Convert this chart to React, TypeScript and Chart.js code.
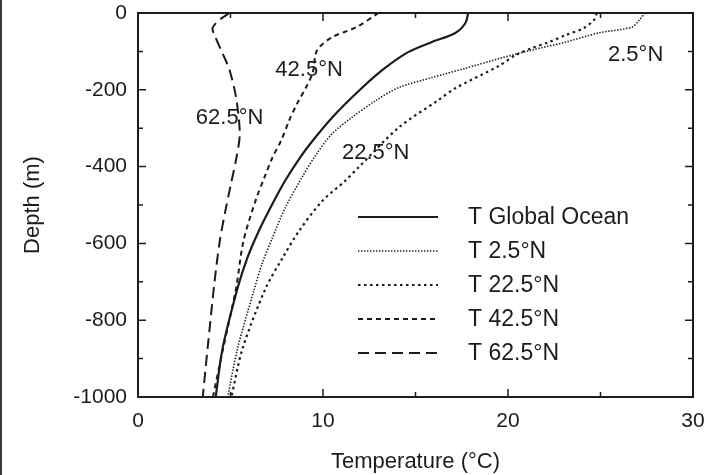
import React, { useEffect, useRef } from "react";
import { Chart, registerables } from "chart.js";

Chart.register(...registerables);

// ---- data (temperature °C vs depth m) ----
const globalDepth = [0, -26, -52, -76, -102, -149, -209, -272, -332, -377, -437, -508, -576, -639, -717, -874, -1000];
const globalTemp = [17.85, 17.7, 17.15, 15.86, 14.6, 13.2, 11.8, 10.5, 9.45, 8.75, 7.95, 7.15, 6.45, 5.9, 5.38, 4.57, 4.2];

const n25Depth = [0, -21, -37, -52, -76, -97, -119, -144, -168, -194, -228, -272, -314, -367, -429, -508, -586, -654, -725, -874, -1000];
const n25Temp = [27.4, 27.05, 26.7, 24.9, 23.1, 21.25, 19.5, 17.7, 15.9, 14.1, 12.85, 11.56, 10.5, 9.65, 8.85, 7.95, 7.26, 6.7, 6.25, 5.38, 4.85];

const n225Depth = [0, -18, -39, -58, -76, -92, -110, -138, -196, -228, -298, -403, -437, -490, -568, -639, -717, -874, -1000];
const n225Temp = [24.8, 24.65, 24.1, 23.1, 22.2, 21.25, 20.4, 19.5, 17.15, 16.2, 14.1, 11.9, 11.2, 9.95, 8.7, 7.8, 6.9, 5.65, 5.05];

const n425Depth = [0, -37, -63, -97, -154, -194, -236, -280, -332, -377, -429, -482, -594, -717, -874, -1000];
const n425Temp = [13.0, 11.8, 10.5, 9.68, 9.45, 9.08, 8.6, 8.17, 7.74, 7.26, 6.83, 6.4, 5.7, 5.3, 4.6, 4.05];

const n625Depth = [0, -18, -39, -58, -105, -149, -220, -314, -377, -455, -516, -594, -699, -874, -1000];
const n625Temp = [4.95, 4.4, 4.03, 4.14, 4.57, 4.95, 5.3, 5.5, 5.32, 4.98, 4.72, 4.42, 4.14, 3.76, 3.5];

const seriesLabels = ["T Global Ocean", "T 2.5°N", "T 22.5°N", "T 42.5°N", "T 62.5°N"];

const curveLabels = ["62.5°N", "42.5°N", "22.5°N", "2.5°N"];
const curveLabelTemp = [4.95, 9.25, 12.85, 26.9];
const curveLabelDepth = [-272, -149, -364, -110];

const xTickValues = [0, 10, 20, 30];
const yTickValues = [0, -200, -400, -600, -800, -1000];

const FONT = '"Liberation Sans", Arial, Helvetica, sans-serif';
const INK = "#1c1c1c";

const toPoints = (t: number[], d: number[]) => t.map((v, i) => ({ x: v, y: d[i] }));

const styles = [
  { dash: [] as number[], width: 2.2 },
  { dash: [1.4, 1.6], width: 1.6 },
  { dash: [2.5, 3.5], width: 2.2 },
  { dash: [5, 4], width: 2 },
  { dash: [11, 6], width: 2 },
];

const decorPlugin = {
  id: "decor",
  beforeDraw(chart: any) {
    const { ctx, width, height } = chart;
    ctx.save();
    ctx.fillStyle = "#ffffff";
    ctx.fillRect(0, 0, width, height);
    ctx.fillStyle = "#3a3a3a";
    ctx.fillRect(0, 0, 2, height);
    ctx.restore();
  },
  afterDraw(chart: any) {
    const { ctx, chartArea, scales } = chart;
    const { left, right, top, bottom } = chartArea;
    const x = scales.x;
    const y = scales.y;
    ctx.save();
    ctx.strokeStyle = INK;
    ctx.lineWidth = 2;
    ctx.strokeRect(left, top, right - left, bottom - top);
    ctx.lineWidth = 1.5;
    ctx.beginPath();
    for (let v = 0; v <= 30; v += 5) {
      const px = x.getPixelForValue(v);
      const len = v % 10 === 0 ? 8 : 5;
      ctx.moveTo(px, bottom);
      ctx.lineTo(px, bottom - len);
      ctx.moveTo(px, top);
      ctx.lineTo(px, top + len);
    }
    for (let v = -1000; v <= 0; v += 100) {
      const py = y.getPixelForValue(v);
      const len = v % 200 === 0 ? 8 : 5;
      ctx.moveTo(left, py);
      ctx.lineTo(left + len, py);
      ctx.moveTo(right, py);
      ctx.lineTo(right - len, py);
    }
    ctx.stroke();

    // curve labels
    ctx.fillStyle = INK;
    ctx.font = `22px ${FONT}`;
    ctx.textAlign = "center";
    ctx.textBaseline = "middle";
    curveLabels.forEach((lab, i) => {
      ctx.fillText(lab, x.getPixelForValue(curveLabelTemp[i]), y.getPixelForValue(curveLabelDepth[i]));
    });

    // legend
    const lx0 = left + 220;
    const lx1 = lx0 + 80;
    const tx = lx0 + 110;
    const ly0 = top + 204;
    const lstep = 34;
    ctx.textAlign = "left";
    ctx.font = `23px ${FONT}`;
    chart.data.datasets.forEach((ds: any, i: number) => {
      const yy = ly0 + i * lstep;
      ctx.save();
      ctx.strokeStyle = ds.borderColor;
      ctx.lineWidth = ds.borderWidth;
      ctx.setLineDash(ds.borderDash || []);
      ctx.beginPath();
      ctx.moveTo(lx0, yy);
      ctx.lineTo(lx1, yy);
      ctx.stroke();
      ctx.restore();
      ctx.fillText(ds.label, tx, yy + 1);
    });
    ctx.restore();
  },
};

export default function App() {
  const ref = useRef<HTMLCanvasElement | null>(null);

  useEffect(() => {
    if (!ref.current) return;
    const series = [
      toPoints(globalTemp, globalDepth),
      toPoints(n25Temp, n25Depth),
      toPoints(n225Temp, n225Depth),
      toPoints(n425Temp, n425Depth),
      toPoints(n625Temp, n625Depth),
    ];
    const chart = new Chart(ref.current, {
      type: "scatter",
      data: {
        datasets: series.map((pts, i) => ({
          label: seriesLabels[i],
          data: pts,
          showLine: true,
          borderColor: INK,
          backgroundColor: INK,
          borderWidth: styles[i].width,
          borderDash: styles[i].dash,
          pointRadius: 0,
          pointHoverRadius: 0,
          tension: 0.3,
          fill: false,
        })),
      },
      options: {
        animation: false,
        responsive: false,
        devicePixelRatio: 1,
        layout: { padding: { top: 13, right: 18, left: 0, bottom: 0 } },
        plugins: {
          legend: { display: false },
          tooltip: { enabled: false },
        },
        scales: {
          x: {
            type: "linear",
            min: 0,
            max: 30,
            grid: { display: false, drawTicks: false },
            border: { display: false },
            ticks: {
              stepSize: 10,
              padding: 12,
              color: INK,
              font: { family: FONT, size: 21 },
              callback: (v: any) => (xTickValues.includes(Number(v)) ? String(v) : ""),
            },
            title: {
              display: true,
              text: "Temperature (°C)",
              color: INK,
              font: { family: FONT, size: 22 },
              padding: { top: 0, bottom: 0 },
            },
            afterFit: (s: any) => {
              s.height = 78;
              s.paddingLeft = 0;
              s.paddingRight = 0;
            },
          },
          y: {
            type: "linear",
            min: -1000,
            max: 0,
            grid: { display: false, drawTicks: false },
            border: { display: false },
            ticks: {
              stepSize: 200,
              padding: 11,
              color: INK,
              font: { family: FONT, size: 21 },
              callback: (v: any) => (yTickValues.includes(Number(v)) ? String(v) : ""),
            },
            title: {
              display: true,
              text: "Depth (m)",
              color: INK,
              font: { family: FONT, size: 22 },
              padding: { top: 20, bottom: 0 },
            },
            afterFit: (s: any) => {
              s.width = 138;
              s.paddingTop = 0;
              s.paddingBottom = 0;
            },
          },
        },
      },
      plugins: [decorPlugin],
    });
    return () => chart.destroy();
  }, []);

  return (
    <div style={{ position: "absolute", left: 0, top: 0, width: 711, height: 475 }}>
      <canvas ref={ref} width={711} height={475} style={{ display: "block" }} />
    </div>
  );
}
